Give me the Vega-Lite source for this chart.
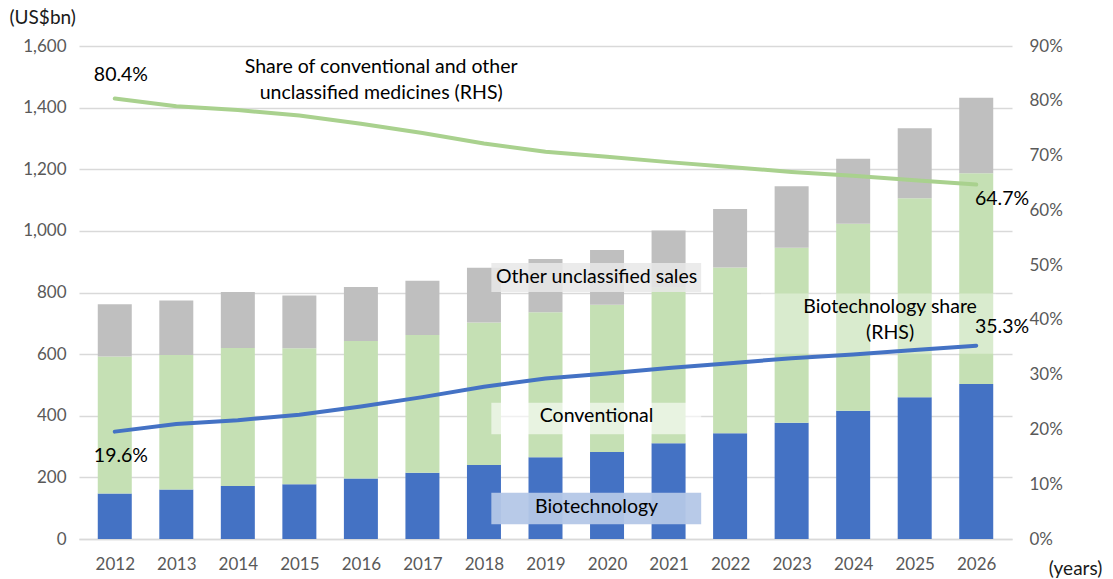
{
  "$schema": "https://vega.github.io/schema/vega-lite/v6.json",
  "width": 933,
  "height": 493,
  "autosize": "none",
  "padding": {"left": 79, "top": 46, "right": 101, "bottom": 40},
  "background": "white",
  "config": {
    "font": "Lato",
    "view": {"stroke": null},
    "axis": {"labelFont": "Lato", "titleFont": "Lato"}
  },
  "datasets": {
    "bars": [
      {"year": 2012, "category": "Biotechnology", "order": 1, "value": 148},
      {"year": 2012, "category": "Conventional", "order": 2, "value": 444},
      {"year": 2012, "category": "Other unclassified", "order": 3, "value": 170},
      {"year": 2013, "category": "Biotechnology", "order": 1, "value": 161},
      {"year": 2013, "category": "Conventional", "order": 2, "value": 436},
      {"year": 2013, "category": "Other unclassified", "order": 3, "value": 177},
      {"year": 2014, "category": "Biotechnology", "order": 1, "value": 172},
      {"year": 2014, "category": "Conventional", "order": 2, "value": 448},
      {"year": 2014, "category": "Other unclassified", "order": 3, "value": 182},
      {"year": 2015, "category": "Biotechnology", "order": 1, "value": 178},
      {"year": 2015, "category": "Conventional", "order": 2, "value": 441},
      {"year": 2015, "category": "Other unclassified", "order": 3, "value": 171},
      {"year": 2016, "category": "Biotechnology", "order": 1, "value": 196},
      {"year": 2016, "category": "Conventional", "order": 2, "value": 447},
      {"year": 2016, "category": "Other unclassified", "order": 3, "value": 175},
      {"year": 2017, "category": "Biotechnology", "order": 1, "value": 215},
      {"year": 2017, "category": "Conventional", "order": 2, "value": 447},
      {"year": 2017, "category": "Other unclassified", "order": 3, "value": 176},
      {"year": 2018, "category": "Biotechnology", "order": 1, "value": 240},
      {"year": 2018, "category": "Conventional", "order": 2, "value": 463},
      {"year": 2018, "category": "Other unclassified", "order": 3, "value": 177},
      {"year": 2019, "category": "Biotechnology", "order": 1, "value": 265},
      {"year": 2019, "category": "Conventional", "order": 2, "value": 471},
      {"year": 2019, "category": "Other unclassified", "order": 3, "value": 173},
      {"year": 2020, "category": "Biotechnology", "order": 1, "value": 282},
      {"year": 2020, "category": "Conventional", "order": 2, "value": 478},
      {"year": 2020, "category": "Other unclassified", "order": 3, "value": 178},
      {"year": 2021, "category": "Biotechnology", "order": 1, "value": 311},
      {"year": 2021, "category": "Conventional", "order": 2, "value": 506},
      {"year": 2021, "category": "Other unclassified", "order": 3, "value": 184},
      {"year": 2022, "category": "Biotechnology", "order": 1, "value": 343},
      {"year": 2022, "category": "Conventional", "order": 2, "value": 538},
      {"year": 2022, "category": "Other unclassified", "order": 3, "value": 190},
      {"year": 2023, "category": "Biotechnology", "order": 1, "value": 377},
      {"year": 2023, "category": "Conventional", "order": 2, "value": 568},
      {"year": 2023, "category": "Other unclassified", "order": 3, "value": 200},
      {"year": 2024, "category": "Biotechnology", "order": 1, "value": 416},
      {"year": 2024, "category": "Conventional", "order": 2, "value": 607},
      {"year": 2024, "category": "Other unclassified", "order": 3, "value": 211},
      {"year": 2025, "category": "Biotechnology", "order": 1, "value": 460},
      {"year": 2025, "category": "Conventional", "order": 2, "value": 646},
      {"year": 2025, "category": "Other unclassified", "order": 3, "value": 227},
      {"year": 2026, "category": "Biotechnology", "order": 1, "value": 503},
      {"year": 2026, "category": "Conventional", "order": 2, "value": 684},
      {"year": 2026, "category": "Other unclassified", "order": 3, "value": 245}
    ],
    "shares": [
      {"year": 2012, "series": "Biotechnology share", "share": 0.196},
      {"year": 2013, "series": "Biotechnology share", "share": 0.210},
      {"year": 2014, "series": "Biotechnology share", "share": 0.217},
      {"year": 2015, "series": "Biotechnology share", "share": 0.227},
      {"year": 2016, "series": "Biotechnology share", "share": 0.242},
      {"year": 2017, "series": "Biotechnology share", "share": 0.259},
      {"year": 2018, "series": "Biotechnology share", "share": 0.278},
      {"year": 2019, "series": "Biotechnology share", "share": 0.293},
      {"year": 2020, "series": "Biotechnology share", "share": 0.302},
      {"year": 2021, "series": "Biotechnology share", "share": 0.312},
      {"year": 2022, "series": "Biotechnology share", "share": 0.321},
      {"year": 2023, "series": "Biotechnology share", "share": 0.330},
      {"year": 2024, "series": "Biotechnology share", "share": 0.337},
      {"year": 2025, "series": "Biotechnology share", "share": 0.345},
      {"year": 2026, "series": "Biotechnology share", "share": 0.353},
      {"year": 2012, "series": "Conventional share", "share": 0.804},
      {"year": 2013, "series": "Conventional share", "share": 0.790},
      {"year": 2014, "series": "Conventional share", "share": 0.783},
      {"year": 2015, "series": "Conventional share", "share": 0.773},
      {"year": 2016, "series": "Conventional share", "share": 0.758},
      {"year": 2017, "series": "Conventional share", "share": 0.741},
      {"year": 2018, "series": "Conventional share", "share": 0.722},
      {"year": 2019, "series": "Conventional share", "share": 0.707},
      {"year": 2020, "series": "Conventional share", "share": 0.698},
      {"year": 2021, "series": "Conventional share", "share": 0.688},
      {"year": 2022, "series": "Conventional share", "share": 0.679},
      {"year": 2023, "series": "Conventional share", "share": 0.670},
      {"year": 2024, "series": "Conventional share", "share": 0.663},
      {"year": 2025, "series": "Conventional share", "share": 0.655},
      {"year": 2026, "series": "Conventional share", "share": 0.647}
    ],
    "boxes": [
      {"kind": "other", "x1": 2018.12, "x2": 2021.53, "y1": 802, "y2": 896},
      {"kind": "conv", "x1": 2018.12, "x2": 2021.53, "y1": 340, "y2": 442},
      {"kind": "bio", "x1": 2018.12, "x2": 2021.53, "y1": 48, "y2": 150},
      {"kind": "bioshare", "x1": 2022.5, "x2": 2026.32, "y1": 601, "y2": 797}
    ],
    "labels": [
      {"x": 2012.1, "y": 1506, "text": "80.4%"},
      {"x": 2012.1, "y": 269, "text": "19.6%"},
      {"x": 2026.42, "y": 1104, "text": "64.7%"},
      {"x": 2026.42, "y": 688, "text": "35.3%"},
      {"x": 2016.33, "y": 1532, "text": "Share of conventional and other\nunclassified medicines (RHS)"},
      {"x": 2019.83, "y": 851, "text": "Other unclassified sales"},
      {"x": 2019.83, "y": 399, "text": "Conventional"},
      {"x": 2019.83, "y": 104, "text": "Biotechnology"},
      {"x": 2024.6, "y": 753, "text": "Biotechnology share\n(RHS)"}
    ]
  },
  "layer": [
    {
      "layer": [
        {
          "data": {"name": "bars"},
          "mark": {"type": "bar", "width": 34},
          "encoding": {
            "x": {
              "field": "year",
              "type": "quantitative",
              "scale": {"domain": [2011.5, 2026.5], "nice": false, "zero": false},
              "axis": {
                "values": [2012, 2013, 2014, 2015, 2016, 2017, 2018, 2019, 2020, 2021, 2022, 2023, 2024, 2025, 2026],
                "format": "d",
                "grid": false,
                "ticks": false,
                "domain": true,
                "domainColor": "#d9d9d9",
                "domainWidth": 1.5,
                "labelFontSize": 17,
                "labelColor": "#595959",
                "labelPadding": 17,
                "title": "(years)",
                "titleFontSize": 19,
                "titleFontWeight": "normal",
                "titleColor": "#1a1a1a",
                "titleAnchor": null,
                "titleX": 996,
                "titleY": 29,
                "titleAlign": "center",
                "titleBaseline": "middle"
              }
            },
            "y": {
              "field": "value",
              "type": "quantitative",
              "stack": "zero",
              "scale": {"domain": [0, 1600], "nice": false},
              "axis": {
                "values": [0, 200, 400, 600, 800, 1000, 1200, 1400, 1600],
                "format": ",.0f",
                "grid": true,
                "gridColor": "#d9d9d9",
                "gridWidth": 1.5,
                "domain": false,
                "ticks": false,
                "labelFontSize": 17,
                "labelColor": "#595959",
                "labelPadding": 13,
                "title": "(US$bn)",
                "titleAngle": 0,
                "titleFontSize": 19,
                "titleFontWeight": "normal",
                "titleColor": "#1a1a1a",
                "titleAlign": "left",
                "titleBaseline": "middle",
                "titleX": -70,
                "titleY": -29
              }
            },
            "color": {
              "field": "category",
              "type": "nominal",
              "scale": {"domain": ["Biotechnology", "Conventional", "Other unclassified"], "range": ["#4472c4", "#c5e0b4", "#bfbfbf"]},
              "legend": null
            },
            "order": {"field": "order", "type": "quantitative"}
          }
        },
        {
          "data": {"name": "boxes"},
          "mark": {"type": "rect"},
          "encoding": {
            "x": {"field": "x1", "type": "quantitative"},
            "x2": {"field": "x2"},
            "y": {"field": "y1", "type": "quantitative"},
            "y2": {"field": "y2"},
            "fill": {
              "field": "kind",
              "type": "nominal",
              "scale": {"domain": ["other", "conv", "bio", "bioshare"], "range": ["rgba(232,232,232,0.85)", "rgba(255,255,255,0.6)", "rgba(180,199,231,0.95)", "rgba(255,255,255,0.35)"]},
              "legend": null
            }
          }
        },
        {
          "data": {"name": "labels"},
          "mark": {"type": "text", "font": "Lato", "fontSize": 19.5, "color": "#000000", "align": "center", "baseline": "middle", "lineBreak": "\n", "lineHeight": 26},
          "encoding": {
            "x": {"field": "x", "type": "quantitative"},
            "y": {"field": "y", "type": "quantitative"},
            "text": {"field": "text", "type": "nominal"}
          }
        }
      ]
    },
    {
      "data": {"name": "shares"},
      "layer": [
        {
          "transform": [{"filter": "datum.series === 'Conventional share'"}],
          "mark": {"type": "line", "color": "#a9d18e", "strokeWidth": 4, "strokeCap": "round"},
          "encoding": {
            "x": {"field": "year", "type": "quantitative"},
            "y": {
              "field": "share",
              "type": "quantitative",
              "scale": {"domain": [0, 0.9], "nice": false},
              "axis": {
                "orient": "right",
                "values": [0, 0.1, 0.2, 0.3, 0.4, 0.5, 0.6, 0.7, 0.8, 0.9],
                "format": ".0%",
                "grid": false,
                "domain": false,
                "ticks": false,
                "labelFontSize": 17,
                "labelColor": "#595959",
                "labelPadding": 17,
                "title": null
              }
            }
          }
        },
        {
          "transform": [{"filter": "datum.series === 'Biotechnology share'"}],
          "mark": {"type": "line", "color": "#4472c4", "strokeWidth": 4, "strokeCap": "round"},
          "encoding": {
            "x": {"field": "year", "type": "quantitative"},
            "y": {"field": "share", "type": "quantitative"}
          }
        }
      ]
    }
  ],
  "resolve": {"scale": {"y": "independent"}}
}
